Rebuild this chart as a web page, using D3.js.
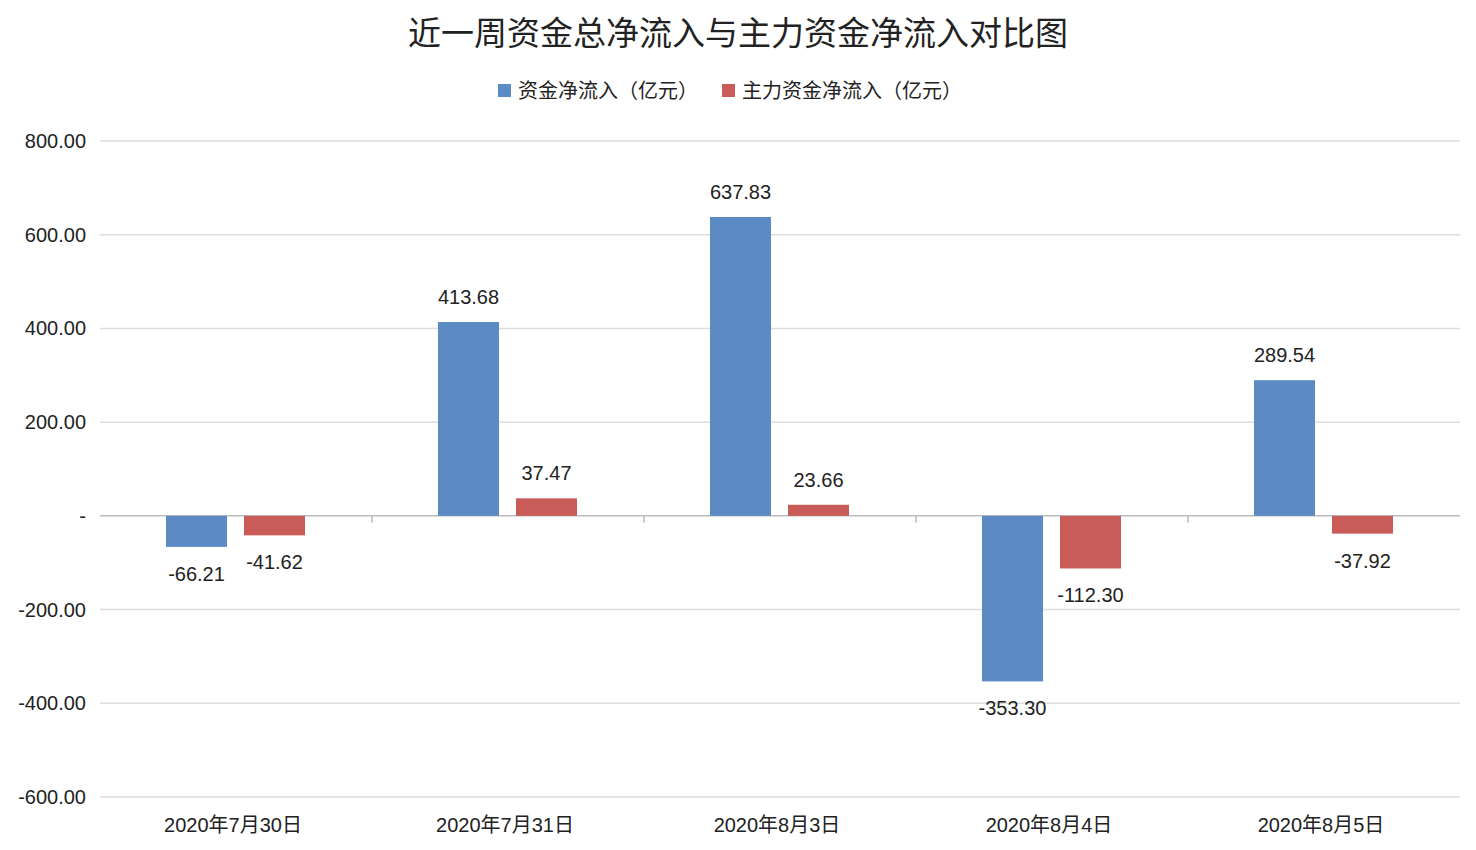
<!DOCTYPE html>
<html><head><meta charset="utf-8">
<script src="https://cdn.jsdelivr.net/npm/d3@7"></script>
<style>body{margin:0;background:#fff}text{font-family:"Helvetica","Liberation Sans","Noto Sans CJK SC",sans-serif}</style>
</head><body><svg id="c" width="1476" height="850"></svg>
<script>
// data
var dates = ["2020年7月30日","2020年7月31日","2020年8月3日","2020年8月4日","2020年8月5日"];
var totalFlow = [-66.21, 413.68, 637.83, -353.30, 289.54];
var mainFlow = [-41.62, 37.47, 23.66, -112.30, -37.92];
var seriesNames = ["资金净流入（亿元）","主力资金净流入（亿元）"];
var colors = ["#5b8ac4","#c95c59"];
var yTicks = [-600,-400,-200,0,200,400,600,800];

var fmt = function(d){ return d3.format(".2f")(d).replace("\u2212","-"); };
var svg = d3.select("#c");
var x = d3.scaleBand().domain(dates).range([100,1460]);
var y = d3.scaleLinear().domain([-600,800]).range([797,141]);

svg.append("text").attr("x",738).attr("y",45).attr("text-anchor","middle")
  .style("font-size","33px").style("font-family","Noto Sans CJK SC").attr("fill","#222")
  .text("近一周资金总净流入与主力资金净流入对比图");

// legend
var lg = [[498,seriesNames[0]],[722,seriesNames[1]]];
lg.forEach(function(l,i){
  svg.append("rect").attr("x",l[0]).attr("y",84).attr("width",13).attr("height",13).attr("fill",colors[i]);
  svg.append("text").attr("x",l[0]+20).attr("y",98).style("font-size","20px")
    .style("font-family","Noto Sans CJK SC").attr("fill","#222").text(l[1]);
});

// grid
svg.selectAll(".g").data(yTicks).enter().append("line")
  .attr("x1",100).attr("x2",1460).attr("y1",d=>y(d)).attr("y2",d=>y(d))
  .attr("stroke",d=>d===0?"#bbb":"#ddd").attr("stroke-width",1.5);
svg.selectAll(".yl").data(yTicks).enter().append("text")
  .attr("x",86).attr("y",d=>y(d)+7).attr("text-anchor","end").style("font-size","20px").attr("fill","#222")
  .text(d=>d===0?"-":fmt(d));

// category ticks
svg.selectAll(".xt").data(dates.slice(1)).enter().append("line")
  .attr("x1",d=>x(d)).attr("x2",d=>x(d)).attr("y1",y(0)).attr("y2",y(0)+7).attr("stroke","#bbb").attr("stroke-width",1.5);
svg.selectAll(".xl").data(dates).enter().append("text")
  .attr("x",d=>x(d)+x.bandwidth()/2-3).attr("y",832).attr("text-anchor","middle")
  .style("font-size","20px").attr("fill","#222").text(d=>d);

var bw = 61, off = [-70, 8];
[totalFlow, mainFlow].forEach(function(vals,s){
  var g = svg.append("g");
  g.selectAll("rect").data(vals).enter().append("rect")
    .attr("x",(d,i)=>x(dates[i])+x.bandwidth()/2+off[s])
    .attr("width",bw)
    .attr("y",d=>y(Math.max(0,d))).attr("height",d=>Math.abs(y(d)-y(0)))
    .attr("fill",colors[s]);
  g.selectAll("text").data(vals).enter().append("text")
    .attr("x",(d,i)=>x(dates[i])+x.bandwidth()/2+off[s]+bw/2)
    .attr("y",d=>d>=0?y(d)-18:y(d)+34)
    .attr("text-anchor","middle").style("font-size","20px").attr("fill","#222")
    .text(fmt);
});
</script></body></html>
